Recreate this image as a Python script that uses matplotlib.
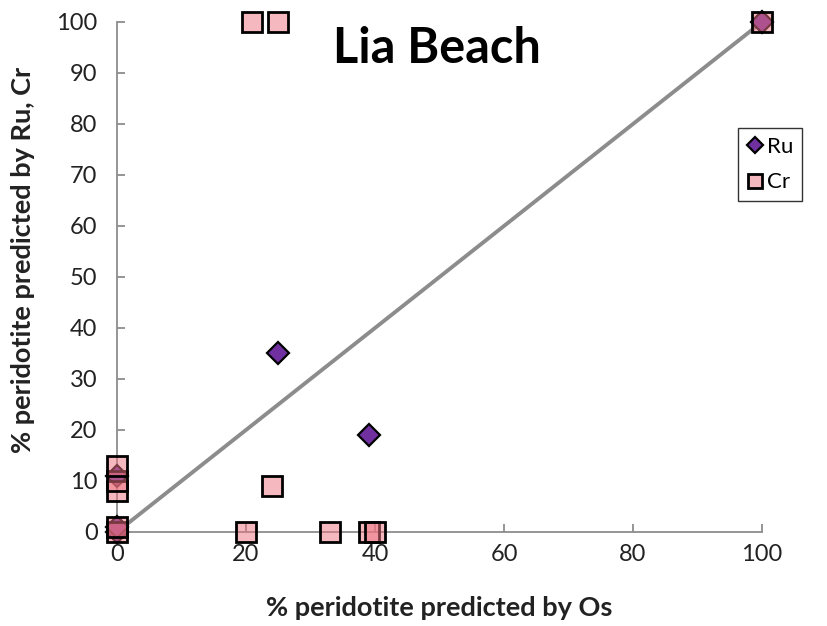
import numpy as np
import matplotlib.pyplot as plt

# Ru series (purple diamonds)
ru_os = [0, 0, 0, 25, 39, 100]
ru_pred = [0, 1, 11, 35, 19, 100]

# Cr series (pink squares)
cr_os = [0, 0, 0, 0, 0, 20, 24, 33, 39, 40, 21, 25, 100]
cr_pred = [0, 1, 8, 10, 13, 0, 9, 0, 0, 0, 100, 100, 100]

# 1:1 reference line
ref_x = [0, 100]
ref_y = [0, 100]

plt.rcParams['font.family'] = ['Lato', 'DejaVu Sans']

fig = plt.figure(figsize=(8.28, 6.26), dpi=100)
ax = fig.add_axes([0.1413, 0.1502, 0.779, 0.8147])

ax.plot(ref_x, ref_y, color='#8c8c8c', lw=2.8, zorder=2, solid_capstyle='butt')

ax.plot(ru_os, ru_pred, linestyle='none', marker='D', ms=11.5,
        mfc='#7030a0', mec='black', mew=1.6, clip_on=False, zorder=3, label='Ru')
ax.plot(cr_os, cr_pred, linestyle='none', marker='s', ms=14,
        mfc=(0.93, 0.45, 0.50, 0.5), mec='black', mew=2.0, clip_on=False,
        zorder=4, label='Cr')

ax.set_xlim(0, 100)
ax.set_ylim(0, 100)
ax.set_xticks(np.arange(0, 101, 20))
ax.set_yticks(np.arange(0, 101, 10))

for side in ['top', 'right']:
    ax.spines[side].set_visible(False)
for side in ['left', 'bottom']:
    ax.spines[side].set_color('#8c8c8c')
    ax.spines[side].set_linewidth(1.3)
    ax.spines[side].set_zorder(1)

ax.tick_params(axis='both', direction='in', length=6, width=1.3, color='#8c8c8c',
               labelsize=17, labelcolor='#222222')
ax.tick_params(axis='y', pad=14)
ax.tick_params(axis='x', pad=9)

fig.text(0.531, 0.029, '% peridotite predicted by Os', ha='center', va='center',
         fontsize=19.5, fontweight='bold', color='#222222')
fig.text(0.028, 0.585, '% peridotite predicted by Ru, Cr', ha='center', va='center',
         rotation=90, fontsize=19.5, fontweight='bold', color='#222222')
fig.text(0.528, 0.923, 'Lia Beach', ha='center', va='center',
         fontsize=35, fontweight='bold', color='black')

leg = ax.legend(loc='upper left', bbox_to_anchor=(738 / 828, 1 - 128 / 626),
                bbox_transform=fig.transFigure, frameon=True, fancybox=False,
                fontsize=16, handlelength=0.7, handletextpad=0.2,
                borderpad=0.4, labelspacing=0.7, markerscale=0.7,
                borderaxespad=0)
leg.get_frame().set_edgecolor('black')
leg.get_frame().set_linewidth(1.0)

fig.savefig('out.png', dpi=100)
